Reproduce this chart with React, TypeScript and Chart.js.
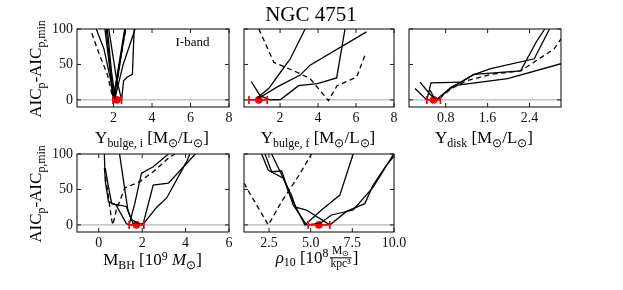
import React, { useEffect, useRef } from 'react';
import { Chart, registerables } from 'chart.js';
Chart.register(...registerables);

type Pt = [number, number];

const W = 623;
const H = 290;

// ---------- shared y axis ----------
const Y_MIN = -10;
const Y_MAX = 100;
const Y_TICKS = [0, 50, 100];
const ZERO_LINE = 0;

// ---------- Panel 1: Upsilon bulge, i ----------
const UBI_X_RANGE = [0.1, 8];
const UBI_X_TICKS = [2, 4, 6, 8];
const UBI_A: Pt[] = [[1.1, 100], [1.5, 72], [1.85, 28], [1.98, 1], [2.3, 50], [2.62, 100]];
const UBI_B: Pt[] = [[1.55, 100], [1.8, 45], [2.0, 4], [2.25, 45], [2.58, 100]];
const UBI_C: Pt[] = [[1.62, 100], [1.85, 40], [2.02, 0], [2.3, 45], [2.6, 100]];
const UBI_D: Pt[] = [[1.68, 100], [1.9, 38], [2.08, 3], [2.5, 50], [3.12, 100]];
const UBI_E: Pt[] = [[1.75, 100], [2.15, 30], [2.42, 0], [2.52, 27], [2.7, 32], [2.98, 36], [3.07, 100]];
const UBI_DASH: Pt[] = [[0.87, 94], [1.25, 65], [1.69, 35], [1.95, 3], [2.05, 0], [2.3, 48], [2.64, 100]];
const UBI_BEST = [2.17, 1.97, 2.41]; // value, low, high

// ---------- Panel 2: Upsilon bulge, f ----------
const UBF_X_RANGE = [0.1, 8];
const UBF_X_TICKS = [2, 4, 6, 8];
const UBF_A: Pt[] = [[0.48, 26], [0.95, 6], [1.46, 0], [2.02, 0.6], [2.54, 11], [2.97, 20], [3.97, 23], [4.98, 31], [5.42, 100]];
const UBF_B: Pt[] = [[0.8, 3], [1.4, 16], [2.02, 39], [2.54, 58], [3.32, 100]];
const UBF_C: Pt[] = [[0.85, 2], [1.9, 19], [3.06, 35], [3.58, 49], [6.55, 96]];
const UBF_DASH: Pt[] = [[0.88, 100], [1.67, 53], [2.89, 39], [3.58, 30], [4.55, -1], [5.0, 20], [6.03, 32], [6.47, 63]];
const UBF_BEST = [0.88, 0.36, 1.32];

// ---------- Panel 3: Upsilon disk ----------
const UD_X_RANGE = [0.1, 3.0];
const UD_X_TICKS = [0.8, 1.6, 2.4];
const UD_A: Pt[] = [[0.215, 16], [0.44, 0], [0.52, 24], [1.09, 25], [1.31, 35], [1.66, 44], [2.49, 58], [2.78, 100]];
const UD_B: Pt[] = [[0.31, 25], [0.5, 8], [0.62, 0], [0.89, 17], [1.09, 25], [1.34, 36], [2.23, 41], [2.53, 82], [2.69, 100]];
const UD_C: Pt[] = [[0.62, 0], [0.96, 20], [1.98, 30], [3.0, 51]];
const UD_E: Pt[] = [[0.5, 14], [0.6, 0], [0.72, 4]];
const UD_DASH: Pt[] = [[0.68, 2], [0.89, 15], [1.2, 27], [1.66, 36], [2.23, 41], [2.87, 72], [3.0, 86]];
const UD_BEST = [0.57, 0.44, 0.7];

// ---------- Panel 4: M_BH ----------
const MBH_X_RANGE = [-1, 6];
const MBH_X_TICKS = [0, 2, 4, 6];
const MBH_A: Pt[] = [[0.26, 100], [0.3, 62], [0.45, 33], [0.8, 28], [1.27, 2], [1.4, 0], [1.66, 30], [1.97, 73], [2.51, 82], [3.21, 100]];
const MBH_B: Pt[] = [[0.96, 100], [1.2, 50], [1.35, 20], [1.58, 2], [1.74, 0], [2.05, 2], [2.51, 56], [3.21, 59], [4.45, 100]];
const MBH_C: Pt[] = [[0.3, 80], [0.5, 45], [0.6, 30], [1.27, 26], [1.5, 8], [1.9, 0], [2.05, 1], [2.67, 25], [3.13, 38], [4.06, 90], [4.2, 100]];
const MBH_DASH: Pt[] = [[0.26, 80], [0.4, 50], [0.58, 10], [0.65, 0], [0.81, 21], [1.2, 52], [1.89, 61], [2.51, 75], [3.21, 94], [3.5, 100]];
const MBH_BEST = [1.74, 1.4, 2.08];

// ---------- Panel 5: rho_10 ----------
const RHO_X_RANGE = [1, 10];
const RHO_X_TICKS = [2.5, 5.0, 7.5, 10.0];
const RHO_A: Pt[] = [[2.06, 100], [2.46, 77], [3.36, 66], [3.75, 42], [4.65, 0], [5.65, 21], [6.75, 42], [7.55, 100]];
const RHO_B: Pt[] = [[2.26, 100], [2.66, 75], [3.26, 76], [3.95, 28], [4.75, 0], [5.55, 2], [6.25, 14], [7.55, 21], [8.74, 53], [9.98, 100]];
const RHO_C: Pt[] = [[2.66, 100], [3.85, 42], [4.1, 25], [4.75, 21], [6.15, 0], [7.15, 19], [8.25, 30], [8.74, 56], [9.54, 84], [10, 97]];
const RHO_DASH: Pt[] = [[1.0, 59], [1.36, 44], [2.46, 0], [3.26, 33], [4.3, 70], [5.05, 100]];
const RHO_BEST = [5.49, 4.85, 6.15];

// ---------- layout ----------
const YW = 30;
const XH = 24;
const FONT = 'Liberation Serif';

type PanelCfg = {
  area: { l: number; t: number; r: number; b: number };
  xRange: number[];
  xTicks: number[];
  decimals: number;
  yLabels: boolean;
  solid: Pt[][];
  dashed: Pt[][];
  best: number[];
};

const PANELS: PanelCfg[] = [
  { area: { l: 77, t: 29, r: 229, b: 107 }, xRange: UBI_X_RANGE, xTicks: UBI_X_TICKS, decimals: 0, yLabels: true, solid: [UBI_A, UBI_B, UBI_C, UBI_D, UBI_E], dashed: [UBI_DASH], best: UBI_BEST },
  { area: { l: 244, t: 29, r: 394, b: 107 }, xRange: UBF_X_RANGE, xTicks: UBF_X_TICKS, decimals: 0, yLabels: false, solid: [UBF_A, UBF_B, UBF_C], dashed: [UBF_DASH], best: UBF_BEST },
  { area: { l: 409, t: 29, r: 561, b: 107 }, xRange: UD_X_RANGE, xTicks: UD_X_TICKS, decimals: 1, yLabels: false, solid: [UD_A, UD_B, UD_C, UD_E], dashed: [UD_DASH], best: UD_BEST },
  { area: { l: 77, t: 154, r: 229, b: 232 }, xRange: MBH_X_RANGE, xTicks: MBH_X_TICKS, decimals: 0, yLabels: true, solid: [MBH_A, MBH_B, MBH_C], dashed: [MBH_DASH], best: MBH_BEST },
  { area: { l: 244, t: 154, r: 394, b: 232 }, xRange: RHO_X_RANGE, xTicks: RHO_X_TICKS, decimals: 1, yLabels: false, solid: [RHO_A, RHO_B, RHO_C], dashed: [RHO_DASH], best: RHO_BEST },
];

function toXY(pts: Pt[]) {
  return pts.map(([x, y]) => ({ x, y }));
}

function makeDeco(cfg: PanelCfg) {
  return {
    id: 'panelDeco',
    beforeDatasetsDraw(chart: any) {
      const { ctx, chartArea: a, scales } = chart;
      const y0 = scales.y.getPixelForValue(ZERO_LINE);
      ctx.save();
      ctx.strokeStyle = '#b5b5b5';
      ctx.lineWidth = 1.3;
      ctx.beginPath();
      ctx.moveTo(a.left, y0);
      ctx.lineTo(a.right, y0);
      ctx.stroke();
      ctx.restore();
    },
    afterDatasetsDraw(chart: any) {
      const { ctx, chartArea: a, scales } = chart;
      const xs = scales.x;
      const ys = scales.y;
      // error bar
      const [, lo, hi] = cfg.best;
      const py = ys.getPixelForValue(ZERO_LINE);
      const pl = xs.getPixelForValue(lo);
      const ph = xs.getPixelForValue(hi);
      ctx.save();
      ctx.strokeStyle = '#ff0000';
      ctx.lineWidth = 1.7;
      ctx.beginPath();
      ctx.moveTo(pl, py);
      ctx.lineTo(ph, py);
      ctx.moveTo(pl, py - 4);
      ctx.lineTo(pl, py + 4);
      ctx.moveTo(ph, py - 4);
      ctx.lineTo(ph, py + 4);
      ctx.stroke();
      ctx.restore();
      // frame
      ctx.save();
      ctx.strokeStyle = '#1a1a1a';
      ctx.lineWidth = 1.1;
      ctx.strokeRect(a.left, a.top, a.right - a.left, a.bottom - a.top);
      // inward ticks
      ctx.lineWidth = 1;
      ctx.beginPath();
      const TL = 4;
      xs.ticks.forEach((t: any) => {
        const p = xs.getPixelForValue(t.value);
        ctx.moveTo(p, a.bottom);
        ctx.lineTo(p, a.bottom - TL);
        ctx.moveTo(p, a.top);
        ctx.lineTo(p, a.top + TL);
      });
      ys.ticks.forEach((t: any) => {
        const p = ys.getPixelForValue(t.value);
        ctx.moveTo(a.left, p);
        ctx.lineTo(a.left + TL, p);
        ctx.moveTo(a.right, p);
        ctx.lineTo(a.right - TL, p);
      });
      ctx.stroke();
      ctx.restore();
    },
  };
}

function Panel({ cfg }: { cfg: PanelCfg }) {
  const ref = useRef<HTMLCanvasElement>(null);
  useEffect(() => {
    const canvas = ref.current!;
    const { l, t, r, b } = cfg.area;
    const datasets: any[] = [];
    cfg.solid.forEach((s) =>
      datasets.push({ data: toXY(s), showLine: true, borderColor: '#000', borderWidth: 1.3, pointRadius: 0, fill: false, tension: 0 })
    );
    cfg.dashed.forEach((s) =>
      datasets.push({ data: toXY(s), showLine: true, borderColor: '#000', borderWidth: 1.3, borderDash: [5, 3.5], pointRadius: 0, fill: false, tension: 0 })
    );
    datasets.push({
      data: [{ x: cfg.best[0], y: ZERO_LINE }],
      showLine: false,
      pointRadius: 3.8,
      pointBackgroundColor: '#ff0000',
      pointBorderColor: '#ff0000',
      pointBorderWidth: 0,
    });
    const chart = new Chart(canvas, {
      type: 'scatter',
      data: { datasets },
      options: {
        animation: false,
        responsive: false,
        maintainAspectRatio: false,
        events: [],
        layout: { padding: { left: l - YW, top: t, right: W - r, bottom: H - b - XH } },
        plugins: { legend: { display: false }, tooltip: { enabled: false }, title: { display: false } },
        scales: {
          x: {
            type: 'linear',
            min: cfg.xRange[0],
            max: cfg.xRange[1],
            grid: { display: false, drawTicks: false },
            border: { display: false },
            afterFit: (s: any) => {
              s.height = XH;
            },
            afterBuildTicks: (s: any) => {
              s.ticks = cfg.xTicks.map((v) => ({ value: v }));
            },
            ticks: {
              color: '#111',
              padding: 3,
              maxRotation: 0,
              autoSkip: false,
              font: { family: FONT, size: 14 },
              callback: (v: any) => Number(v).toFixed(cfg.decimals),
            },
          },
          y: {
            type: 'linear',
            min: Y_MIN,
            max: Y_MAX,
            grid: { display: false, drawTicks: false },
            border: { display: false },
            afterFit: (s: any) => {
              s.width = YW;
            },
            afterBuildTicks: (s: any) => {
              s.ticks = Y_TICKS.map((v) => ({ value: v }));
            },
            ticks: {
              display: cfg.yLabels,
              color: '#111',
              padding: 4,
              autoSkip: false,
              font: { family: FONT, size: 14 },
              callback: (v: any) => String(v),
            },
          },
        },
      } as any,
      plugins: [makeDeco(cfg)],
    });
    return () => chart.destroy();
  }, [cfg]);
  return <canvas ref={ref} width={W} height={H} style={{ position: 'absolute', left: 0, top: 0, width: W, height: H }} />;
}

const Sub = ({ children }: { children: React.ReactNode }) => (
  <span style={{ fontSize: '0.7em', position: 'relative', top: '0.3em' }}>{children}</span>
);
const Sup = ({ children }: { children: React.ReactNode }) => (
  <span style={{ fontSize: '0.7em', position: 'relative', top: '-0.45em' }}>{children}</span>
);

const SUN = '\u2299';

function Label({ x, y, size, children, rotate }: { x: number; y: number; size: number; children: React.ReactNode; rotate?: boolean }) {
  return (
    <div
      style={{
        position: 'absolute',
        left: x,
        top: y,
        fontSize: size,
        lineHeight: 1,
        whiteSpace: 'nowrap',
        fontFamily: FONT,
        color: '#000',
        transform: rotate ? 'translate(-50%, -50%) rotate(-90deg)' : 'translate(-50%, -50%)',
      }}
    >
      {children}
    </div>
  );
}

const YTitle = () => (
  <>
    AIC<Sub>p</Sub>-AIC<Sub>p,min</Sub>
  </>
);

export default function App() {
  return (
    <div style={{ position: 'fixed', left: 0, top: 0, width: W, height: H, background: '#fff', overflow: 'hidden' }}>
      {PANELS.map((p, i) => (
        <Panel key={i} cfg={p} />
      ))}
      <Label x={311} y={14} size={21}>NGC 4751</Label>
      <Label x={192.5} y={41} size={13}>I-band</Label>
      <Label x={34.5} y={69} size={17} rotate>
        <YTitle />
      </Label>
      <Label x={34.5} y={194} size={17} rotate>
        <YTitle />
      </Label>
      <Label x={152} y={137} size={17}>
        Υ<Sub>bulge, i</Sub> [M<Sub>{SUN}</Sub>/L<Sub>{SUN}</Sub>]
      </Label>
      <Label x={318} y={137} size={17}>
        Υ<Sub>bulge, f</Sub> [M<Sub>{SUN}</Sub>/L<Sub>{SUN}</Sub>]
      </Label>
      <Label x={484} y={137} size={17}>
        Υ<Sub>disk</Sub> [M<Sub>{SUN}</Sub>/L<Sub>{SUN}</Sub>]
      </Label>
      <Label x={152.5} y={259} size={17}>
        M<Sub>BH</Sub> [10<Sup>9</Sup> <i>M</i>
        <Sub>{SUN}</Sub>]
      </Label>
      <Label x={317} y={259} size={17}>
        <i>ρ</i>
        <Sub>10</Sub> [10<Sup>8</Sup>
        <span
          style={{
            display: 'inline-block',
            verticalAlign: 'middle',
            textAlign: 'center',
            fontSize: '0.68em',
            lineHeight: 1.05,
            margin: '0 1px',
            position: 'relative',
            top: '-0.1em',
          }}
        >
          <span style={{ display: 'block', padding: '0 1px' }}>
            M<Sub>{SUN}</Sub>
          </span>
          <span style={{ display: 'block', borderTop: '1px solid #000', padding: '0 1px' }}>kpc³</span>
        </span>
        ]
      </Label>
    </div>
  );
}
